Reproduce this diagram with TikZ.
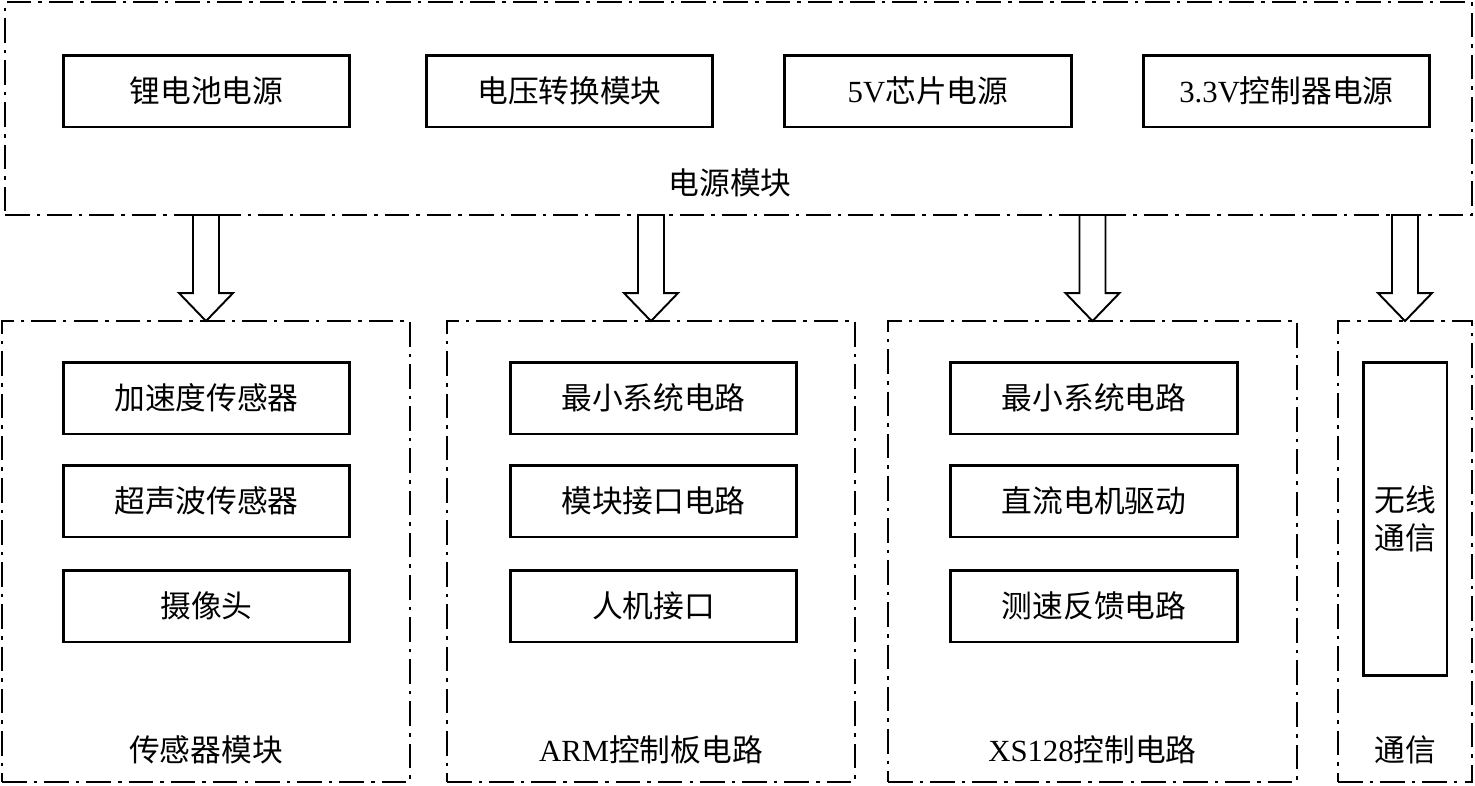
\documentclass[tikz,border=0pt]{standalone}
\usepackage{fontspec}
\setmainfont{Liberation Serif}
\newfontfamily\cjk{Noto Sans CJK SC}
\usetikzlibrary{positioning, calc}
\tikzset{
  groupbox/.style={draw, line width=1.1pt, dash pattern=on 14pt off 4pt on 2pt off 4pt, inner sep=0pt, outer sep=0pt},
  unitbox/.style={draw, line width=1.7pt, minimum width=5.74cm, minimum height=1.44cm, inner sep=0pt},
  grouptitle/.style={inner sep=0pt},
  hollowarrow/.style={draw, line width=1.1pt, fill=white, line join=miter}
}
\begin{document}
\begin{tikzpicture}[x=0.02cm, y=-0.02cm,
    every node/.style={font=\cjk\fontsize{17.5}{21.5}\selectfont}]
    \useasboundingbox (0,0) rectangle (1475,785);

    % Power module
    \node[groupbox, minimum width=29.34cm, minimum height=4.26cm] (pwr) at (738.5,108.5) {};
    \node[grouptitle] (pwrtitle) at (730,183) {电源模块};
    \node[unitbox] (p1) at (206.5,91) {锂电池电源};
    \node[unitbox] (p2) at (569.5,91) {电压转换模块};
    \node[unitbox] (p3) at (928,91) {{\rmfamily 5V}芯片电源};
    \node[unitbox] (p4) at (1286.5,91) {{\rmfamily 3.3V}控制器电源};

    % Groups
    \node[groupbox, minimum width=8.16cm, minimum height=9.22cm] (g1) at (206,551.5) {};
    \node[groupbox, minimum width=8.16cm, minimum height=9.22cm] (g2) at (651,551.5) {};
    \node[groupbox, minimum width=8.18cm, minimum height=9.22cm] (g3) at (1092.5,551.5) {};
    \node[groupbox, minimum width=2.68cm, minimum height=9.22cm] (g4) at (1405,551.5) {};

    \node[grouptitle] (t1) at (206,750) {传感器模块};
    \node[grouptitle] (t2) at (651,750) {{\rmfamily ARM}控制板电路};
    \node[grouptitle] (t3) at (1092.5,750) {{\rmfamily XS128}控制电路};
    \node[grouptitle] (t4) at (1405,750) {通信};

    % Sensor units
    \node[unitbox] (s1) at (206.5,398) {加速度传感器};
    \node[unitbox] (s2) at (206.5,501) {超声波传感器};
    \node[unitbox] (s3) at (206.5,606) {摄像头};

    % ARM units
    \node[unitbox] (a1) at (653.5,398) {最小系统电路};
    \node[unitbox] (a2) at (653.5,501) {模块接口电路};
    \node[unitbox] (a3) at (653.5,606) {人机接口};

    % XS128 units
    \node[unitbox] (x1) at (1094,398) {最小系统电路};
    \node[unitbox] (x2) at (1094,501) {直流电机驱动};
    \node[unitbox] (x3) at (1094,606) {测速反馈电路};

    % Wireless
    \node[unitbox, minimum width=1.68cm, minimum height=6.28cm, align=center] (w1) at (1405,519) {无线\\通信};

    % Block arrows
    \foreach \g in {g1,g2,g3,g4}
        \draw[hollowarrow] ($(pwr.south -| \g.north)+(-13,0)$) -- ($(\g.north)+(-13,-28)$)
            -- ++(-14,0) -- (\g.north) -- ++(27,-28) -- ++(-14,0)
            -- ($(pwr.south -| \g.north)+(13,0)$) -- cycle;
\end{tikzpicture}
\end{document}
